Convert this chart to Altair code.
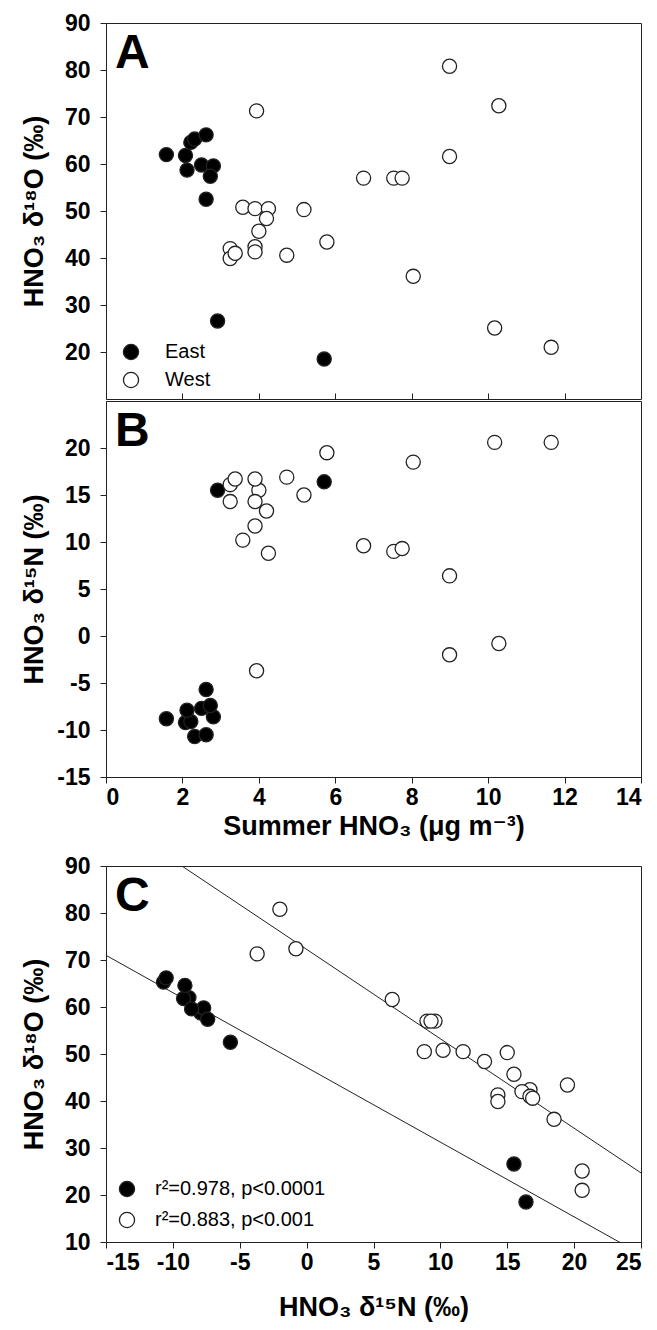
import altair as alt
import pandas as pd

FONT = "Liberation Sans, Arial, DejaVu Sans"

# ---- data ----
east_hno3 = [1.58, 2.08, 2.22, 2.32, 2.62, 2.12, 2.50, 2.81, 2.73, 2.62, 2.92, 5.71]
east_d18o = [62.0, 61.8, 64.6, 65.3, 66.2, 58.7, 59.8, 59.6, 57.4, 52.5, 26.6, 18.5]
east_d15n = [-8.8, -9.2, -9.1, -10.7, -10.5, -7.9, -7.7, -8.6, -7.4, -5.7, 15.5, 16.4]

west_hno3 = [3.94, 3.58, 3.90, 4.25, 4.20, 4.00, 3.90, 3.90, 3.25, 3.25, 3.38, 4.73,
             5.18, 5.78, 8.99, 10.28, 8.99, 6.74, 7.53, 7.75, 8.04, 10.17, 11.65]
west_d18o = [71.3, 50.8, 50.5, 50.5, 48.4, 45.7, 42.4, 41.3, 42.0, 39.9, 41.0, 40.6,
             50.3, 43.4, 80.8, 72.4, 61.6, 57.0, 57.0, 57.0, 36.1, 25.1, 21.0]
west_d15n = [-3.7, 10.2, 11.7, 8.8, 13.3, 15.5, 16.7, 14.3, 16.1, 14.3, 16.7, 16.9,
             15.0, 19.5, -2.0, -0.8, 6.4, 9.6, 9.0, 9.3, 18.5, 20.6, 20.6]

sites = ["East", "West"]
fit_labels = ["r\u00b2=0.978, p<0.0001", "r\u00b2=0.883, p<0.001"]

# regression lines (end points)
fit_d15n = [-15, 25]
east_fit_d18o = [71.0, 7.4]
west_fit_d18o = [100.8, 24.7]

panel_letters = ["A", "B", "C"]

df = pd.DataFrame({
    "site": [sites[0]] * len(east_hno3) + [sites[1]] * len(west_hno3),
    "fit": [fit_labels[0]] * len(east_hno3) + [fit_labels[1]] * len(west_hno3),
    "hno3": east_hno3 + west_hno3,
    "d18o": east_d18o + west_d18o,
    "d15n": east_d15n + west_d15n,
})
fit_df = pd.DataFrame({
    "site": [sites[0]] * 2 + [sites[1]] * 2,
    "d15n": fit_d15n + fit_d15n,
    "d18o": east_fit_d18o + west_fit_d18o,
})

W, H = 535, 376
EXT = 52
TP = 6
INK = "#222222"
LBL = "'' + datum.value"   # plain hyphen minus like the original

def letter(i):
    return alt.Chart(pd.DataFrame({"t": [panel_letters[i]]})).mark_text(
        font=FONT, fontSize=48, fontWeight="bold", align="left",
        baseline="alphabetic", color="black"
    ).encode(text="t:N", x=alt.value(9), y=alt.value(45))

def yaxis(title, values):
    return alt.Axis(title=title, values=values, minExtent=EXT, maxExtent=EXT,
                    titlePadding=TP, labelExpr=LBL, labelPadding=10)

def legend(x, y, row_pad, offset):
    return alt.Legend(title=None, orient="none", legendX=x, legendY=y,
                      symbolType="circle", symbolSize=230,
                      symbolStrokeColor=INK, symbolStrokeWidth=1.3,
                      labelFont=FONT, labelFontSize=20, labelColor="black",
                      labelOffset=offset, rowPadding=row_pad, padding=0,
                      labelLimit=400)

pts = dict(size=200, stroke=INK, strokeWidth=1.3, opacity=1)

# ---- Panel A ----
xA = alt.X("hno3:Q", scale=alt.Scale(domain=[0, 14], nice=False, zero=False),
           axis=alt.Axis(values=[2, 4, 6, 8, 10, 12], labels=False, title=None,
                         offset=-6, domain=False, tickSize=6))
yA = alt.Y("d18o:Q", scale=alt.Scale(domain=[10, 90], nice=False, zero=False),
           axis=yaxis("HNO\u2083 \u03b4\u00b9\u2078O (\u2030)", list(range(20, 91, 10))))
fillA = alt.Fill("site:N", scale=alt.Scale(domain=sites, range=["black", "white"]),
                 legend=legend(15, 319, 6, 24))
A = alt.layer(
    alt.Chart(df).mark_circle(**pts).encode(x=xA, y=yA, fill=fillA),
    letter(0),
).properties(width=W, height=H)

# ---- Panel B ----
xB = alt.X("hno3:Q", scale=alt.Scale(domain=[0, 14], nice=False, zero=False),
           axis=alt.Axis(values=list(range(0, 15, 2)), labelExpr=LBL,
                         title="Summer HNO\u2083 (\u03bcg m\u207b\u00b3)"))
yB = alt.Y("d15n:Q", scale=alt.Scale(domain=[-15, 25], nice=False, zero=False),
           axis=yaxis("HNO\u2083 \u03b4\u00b9\u2075N (\u2030)", list(range(-15, 21, 5))))
fillB = alt.Fill("site:N", scale=alt.Scale(domain=sites, range=["black", "white"]),
                 legend=None)
B = alt.layer(
    alt.Chart(df).mark_circle(**pts).encode(x=xB, y=yB, fill=fillB),
    letter(1),
).properties(width=W, height=H)

# ---- Panel C ----
xC = alt.X("d15n:Q", scale=alt.Scale(domain=[-15, 25], nice=False, zero=False),
           axis=alt.Axis(values=list(range(-15, 26, 5)), labelExpr=LBL,
                         titlePadding=20,
                         title="HNO\u2083 \u03b4\u00b9\u2075N (\u2030)"))
yC = alt.Y("d18o:Q", scale=alt.Scale(domain=[10, 90], nice=False, zero=False),
           axis=yaxis("HNO\u2083 \u03b4\u00b9\u2078O (\u2030)", list(range(10, 91, 10))))
fillC = alt.Fill("fit:N", scale=alt.Scale(domain=fit_labels, range=["black", "white"]),
                 legend=legend(11, 313, 9, 18))
lines = alt.Chart(fit_df).mark_line(color=INK, strokeWidth=1, clip=True).encode(
    x=alt.X("d15n:Q"), y=alt.Y("d18o:Q"), detail="site:N")
C = alt.layer(
    lines,
    alt.Chart(df).mark_circle(**pts).encode(x=xC, y=yC, fill=fillC),
    letter(2),
).properties(width=W, height=H)

top = alt.vconcat(A, B, spacing=0).resolve_scale(fill="independent")
chart = alt.vconcat(top, C, spacing=14).resolve_scale(fill="independent").properties(
    padding={"left": 19, "top": 11, "right": 10, "bottom": 10},
    background="white",
).configure_view(stroke=INK, strokeWidth=1).configure_axis(
    labelFont=FONT, labelFontWeight="bold", labelFontSize=23, labelColor="black",
    titleFont=FONT, titleFontWeight="bold", titleFontSize=27, titleColor="black",
    tickColor=INK, domainColor=INK, tickSize=6, labelPadding=3, grid=False,
).configure_legend(labelFontSize=20, labelFont=FONT)

chart.save("out.html", embed_options={"renderer": "svg", "actions": False})
